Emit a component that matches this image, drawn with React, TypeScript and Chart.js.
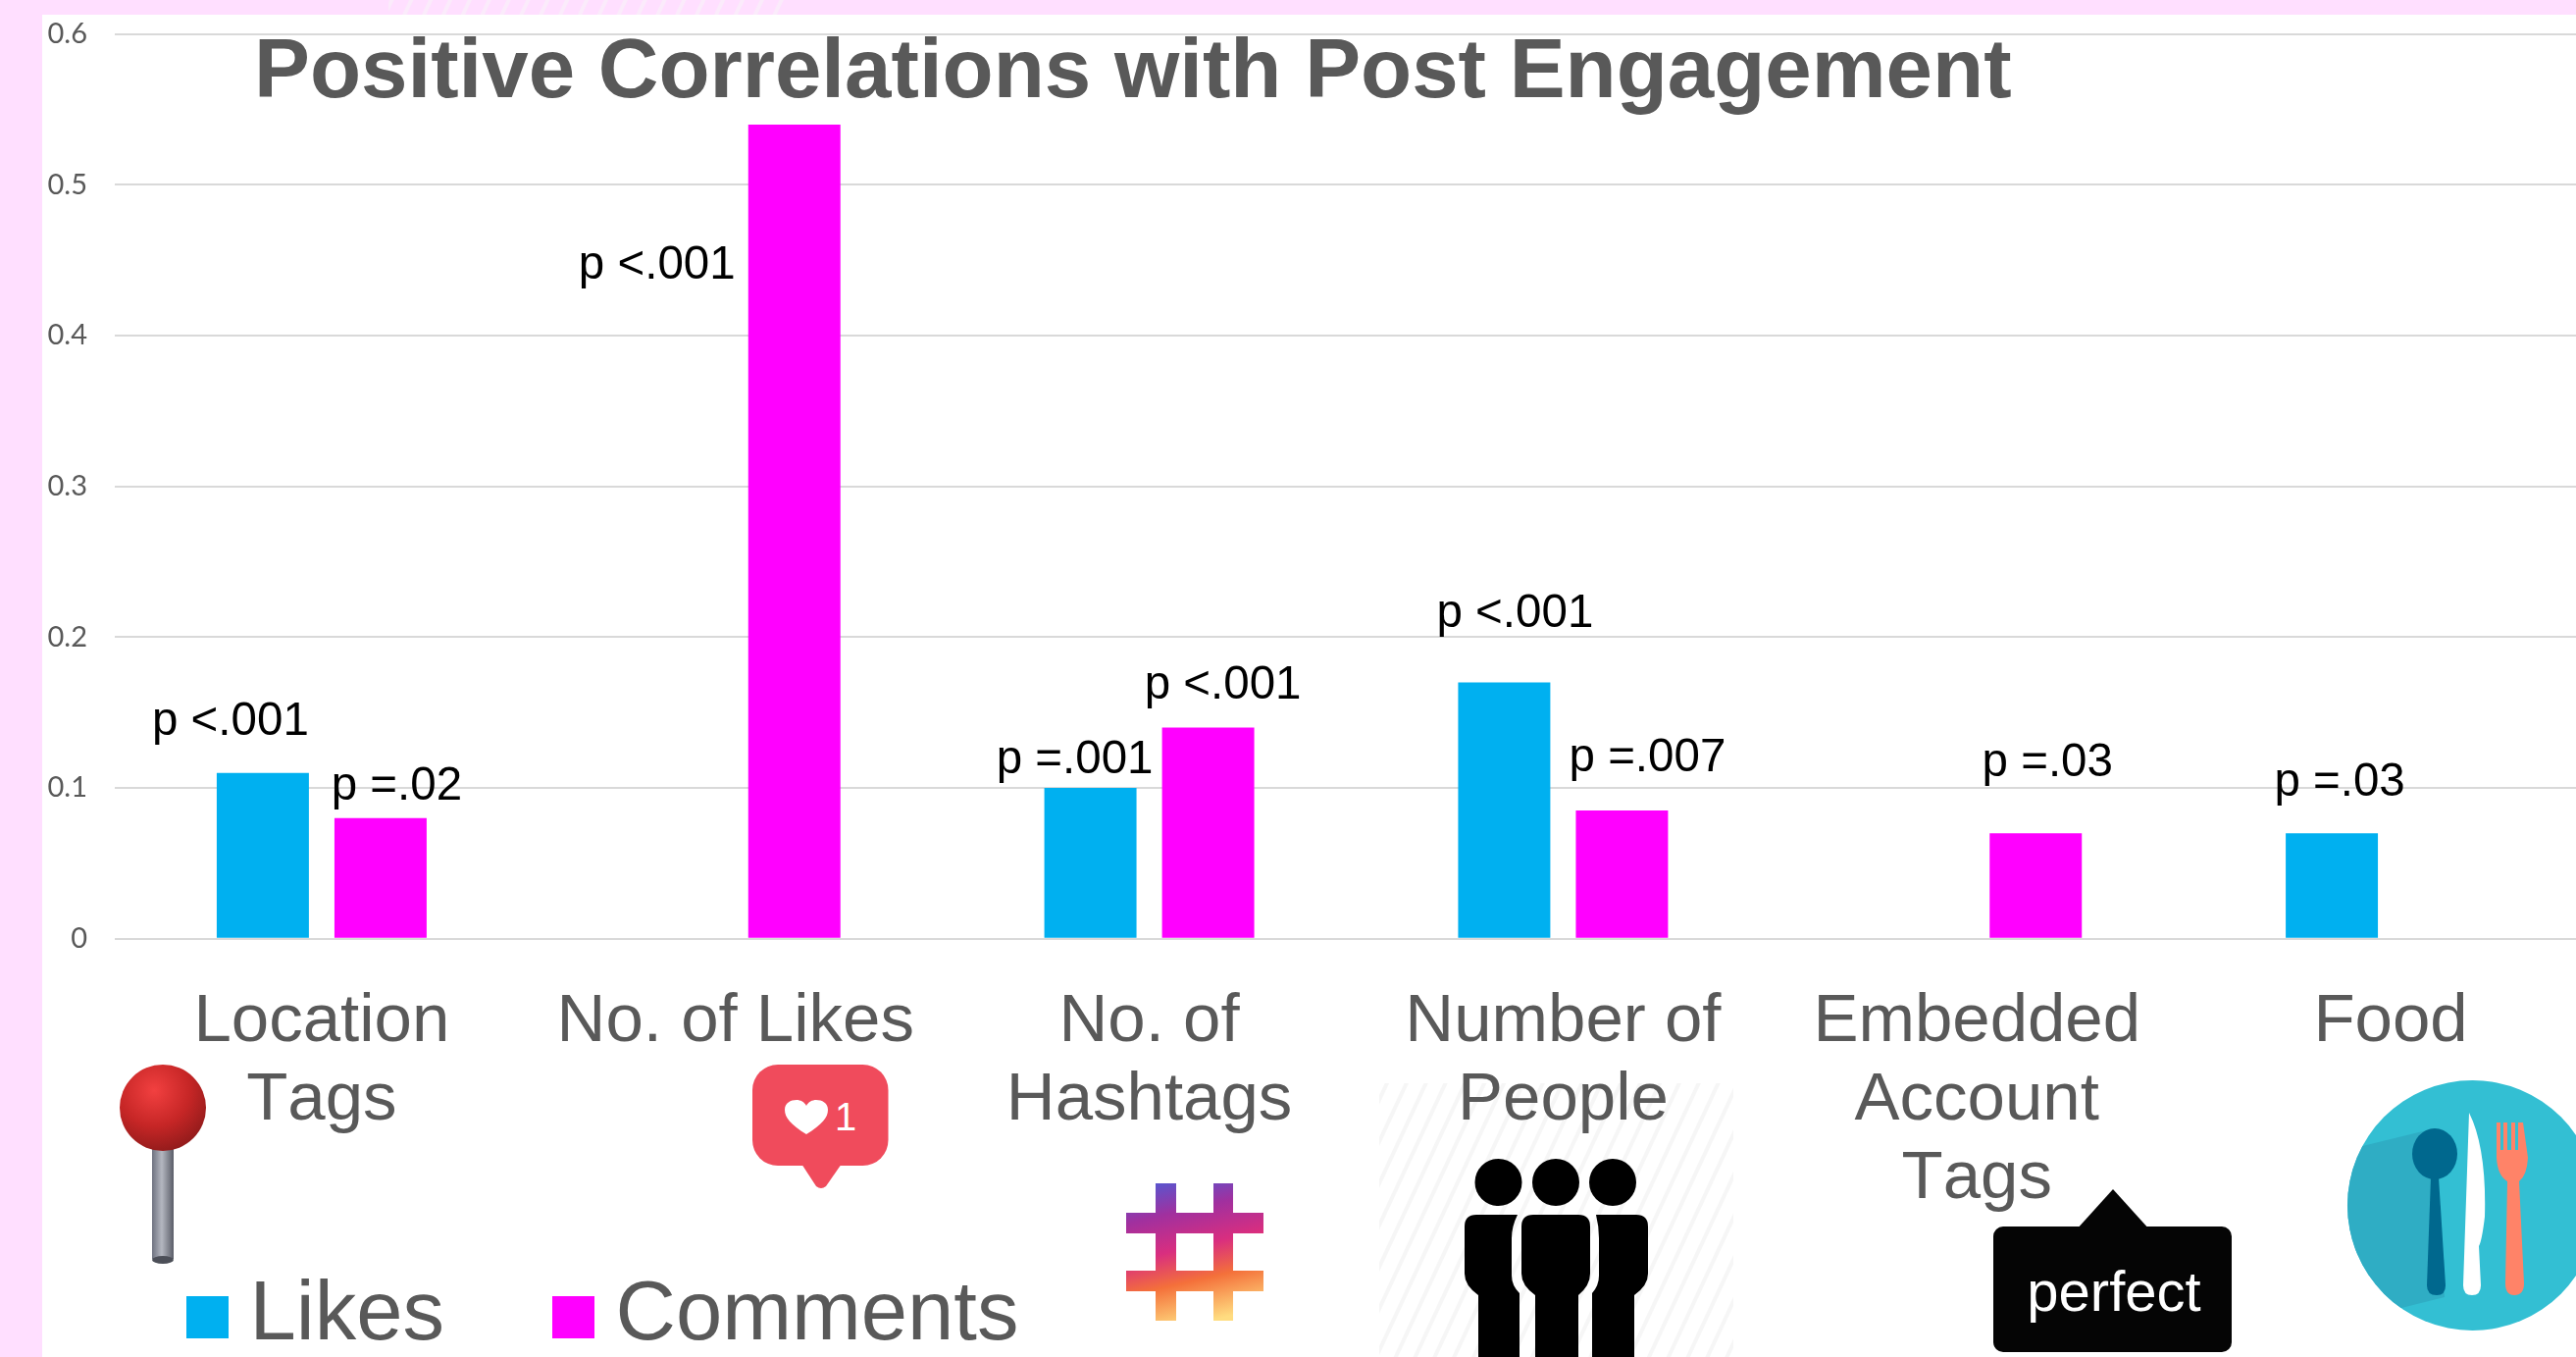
import React, { useEffect, useRef } from "react";
import { Chart, registerables } from "chart.js";

Chart.register(...registerables);

const chartTitle = "Positive Correlations with Post Engagement";
const categories = [
  ["Location", "Tags"],
  ["No. of Likes"],
  ["No. of", "Hashtags"],
  ["Number of", "People"],
  ["Embedded", "Account", "Tags"],
  ["Food"],
];
const likes = [0.11, null, 0.1, 0.17, null, 0.07];
const comments = [0.08, 0.54, 0.14, 0.085, 0.07, null];
const pLikes = ["p <.001", null, "p =.001", "p <.001", null, "p =.03"];
const pComments = ["p =.02", "p <.001", "p <.001", "p =.007", "p =.03", null];
const yTickLabels = ["0", "0.1", "0.2", "0.3", "0.4", "0.5", "0.6"];

// label placement relative to the top centre of the bar it annotates
const likesOffsets: (number[] | null)[] = [[-33, -52], null, [-16, -28], [11, -70], null, [8, -51.5]];
const commentsOffsets: (number[] | null)[] = [[16.5, -31.5], [-140, 144], [15, -43], [26, -53.5], [12, -71.5], null];

const W = 2648;
const H = 1383;
const PLOT_TOP = 34.7;
const PLOT_BOTTOM = 956.7;
const PLOT_LEFT = 117;
const GREY = "#595959";
const BLUE = "#00B0F0";
const MAGENTA = "#FF00FF";
const PINK = "#FFDFFF";
const SANS = "'Liberation Sans', Arial, sans-serif";

function swatch(color: string) {
  const c = document.createElement("canvas");
  c.width = 43;
  c.height = 43;
  const x = c.getContext("2d")!;
  x.fillStyle = color;
  x.fillRect(0, 0, 43, 43);
  return c;
}

const placeBoxes = {
  id: "placeBoxes",
  afterLayout(chart: any) {
    const t = chart.titleBlock;
    t.left = 259;
    t.right = W;
    t.top = 0;
    const l = chart.legend;
    l.left = 79.9;
    l.right = W;
    l.top = 1168.4;
    l.bottom = H;
  },
  beforeDraw(chart: any) {
    chart.ctx.fontKerning = "none";
  },
};

const pValueLabels = {
  id: "pValueLabels",
  afterDatasetsDraw(chart: any) {
    const ctx = chart.ctx;
    ctx.save();
    ctx.font = `47.5px ${SANS}`;
    ctx.fillStyle = "#000000";
    ctx.textAlign = "center";
    ctx.textBaseline = "middle";
    [pLikes, pComments].forEach((labels, ds) => {
      const offs = ds === 0 ? likesOffsets : commentsOffsets;
      const bars = chart.getDatasetMeta(ds).data;
      labels.forEach((txt, i) => {
        const o = offs[i];
        if (!txt || !o) return;
        ctx.fillText(txt, bars[i].x + o[0], bars[i].y + o[1]);
      });
    });
    ctx.restore();
  },
};

function Icons() {
  return (
    <svg
      width={2626}
      height={1383}
      style={{ position: "absolute", left: 0, top: 0, display: "block" }}
      xmlns="http://www.w3.org/2000/svg"
    >
      <defs>
        <pattern id="hatch" width="18" height="18" patternUnits="userSpaceOnUse" patternTransform="rotate(25)">
          <rect x="0" y="0" width="4" height="18" fill="#F6F6F6" />
        </pattern>
        <radialGradient id="pinHead" cx="0.4" cy="0.3" r="0.75">
          <stop offset="0" stopColor="#F24040" />
          <stop offset="0.55" stopColor="#C62626" />
          <stop offset="1" stopColor="#8E1A1A" />
        </radialGradient>
        <linearGradient id="pinStem" x1="0" x2="1" y1="0" y2="0">
          <stop offset="0" stopColor="#6E7280" />
          <stop offset="0.45" stopColor="#B4B7C0" />
          <stop offset="1" stopColor="#5A5D68" />
        </linearGradient>
        <linearGradient id="hashGrad" gradientUnits="userSpaceOnUse" x1="1180" y1="1200" x2="1215" y2="1350">
          <stop offset="0" stopColor="#4F5BD5" />
          <stop offset="0.25" stopColor="#A0309F" />
          <stop offset="0.5" stopColor="#D92E7F" />
          <stop offset="0.72" stopColor="#F4703A" />
          <stop offset="1" stopColor="#FFDC80" />
        </linearGradient>
        <clipPath id="plateClip">
          <circle cx="2520.5" cy="1228.5" r="127.5" />
        </clipPath>
      </defs>

      {/* faint hatch strip of a cropped picture along the top edge */}
      <rect x="396" y="0" width="408" height="15" fill="url(#hatch)" opacity="0.5" />

      {/* map pin */}
      <rect x="155" y="1165" width="22" height="118" fill="url(#pinStem)" />
      <ellipse cx="166" cy="1284" rx="11" ry="4" fill="#4C4F58" />
      <circle cx="166" cy="1129" r="44" fill="url(#pinHead)" />

      {/* like bubble */}
      <rect x="767" y="1085" width="138.5" height="103" rx="26" fill="#F04B5C" />
      <path d="M817 1186 L858 1186 L842 1209 Q837 1213 832 1209 Z" fill="#F04B5C" />
      <path
        d="M822 1156 C806 1146 800 1139 800 1131 C800 1124 806 1121 812 1121 C816 1121 820 1123 822 1127 C824 1123 828 1121 832 1121 C838 1121 844 1124 844 1131 C844 1139 838 1146 822 1156 Z"
        fill="#FFFFFF"
      />
      <text x="862" y="1152" textAnchor="middle" fontFamily={SANS} fontSize="40" fill="#FFFFFF">
        1
      </text>

      {/* hashtag */}
      <g fill="url(#hashGrad)">
        <rect x="1178" y="1206" width="21" height="140" />
        <rect x="1237" y="1206" width="20" height="140" />
        <rect x="1148" y="1236" width="140" height="21" />
        <rect x="1148" y="1295" width="140" height="21" />
      </g>

      {/* people */}
      <rect x="1406" y="1104" width="361" height="279" fill="url(#hatch)" />
      <g fill="#000000">
        <circle cx="1527.5" cy="1205" r="24" />
        <circle cx="1586" cy="1205" r="24" />
        <circle cx="1644" cy="1205" r="24" />
        <path d="M1505 1238 H1547 Q1541 1250 1541 1262 V1300 Q1541 1310 1549 1318 V1383 H1507 V1320 Q1493 1310 1493 1298 V1250 Q1493 1238 1505 1238 Z" />
        <path d="M1563 1238 H1609 Q1621 1238 1621 1250 V1298 Q1621 1310 1609 1320 V1383 H1565 V1320 Q1551 1310 1551 1298 V1250 Q1551 1238 1563 1238 Z" />
        <path d="M1627 1238 H1668 Q1680 1238 1680 1250 V1298 Q1680 1310 1666 1320 V1383 H1623 V1318 Q1630 1310 1630 1300 V1262 Q1630 1250 1627 1238 Z" />
      </g>

      {/* account tag */}
      <rect x="2032" y="1250" width="243" height="128" rx="10" fill="#050505" />
      <path d="M2116 1254 L2154 1212 L2192 1254 Z" fill="#050505" />
      <text x="2155" y="1336" textAnchor="middle" fontFamily={SANS} fontSize="58" fill="#FFFFFF">
        perfect
      </text>

      {/* food plate */}
      <circle cx="2520.5" cy="1228.5" r="127.5" fill="#33BFD3" />
      <polygon points="2380,1175 2482,1150 2492,1322 2380,1350" fill="#2FADC4" clipPath="url(#plateClip)" />
      <ellipse cx="2482" cy="1176" rx="23" ry="26" fill="#00688E" />
      <path d="M2478 1200 H2486 L2493 1310 Q2493 1320 2484 1320 Q2474 1320 2474 1310 Z" fill="#00688E" />
      <path d="M2517 1134 Q2535 1170 2533 1240 Q2530 1265 2527 1270 L2529 1310 Q2529 1320 2520 1320 Q2511 1320 2511 1310 Z" fill="#FFFFFF" />
      <path d="M2545 1144 H2549 V1172 H2552 V1144 H2556 V1172 H2560 V1144 H2564 V1172 H2567 V1144 H2572 L2577 1180 Q2576 1198 2568 1204 L2573 1308 Q2573 1320 2563 1320 Q2554 1320 2554 1308 L2556 1204 Q2546 1198 2545 1180 Z" fill="#FF8368" />
    </svg>
  );
}

export default function App() {
  const ref = useRef<HTMLCanvasElement | null>(null);

  useEffect(() => {
    if (!ref.current) return;
    const chart = new Chart(ref.current, {
      type: "bar",
      data: {
        labels: categories as any,
        datasets: [
          { label: "Likes", data: likes, backgroundColor: BLUE },
          { label: "Comments", data: comments, backgroundColor: MAGENTA },
        ],
      },
      plugins: [placeBoxes, pValueLabels],
      options: {
        responsive: false,
        animation: false,
        devicePixelRatio: 1,
        layout: { padding: { top: PLOT_TOP, left: 0, right: 0, bottom: 0 } },
        datasets: { bar: { categoryPercentage: 0.569, barPercentage: 0.783, borderWidth: 0 } },
        plugins: {
          tooltip: { enabled: false },
          title: {
            display: true,
            text: chartTitle,
            align: "start",
            color: GREY,
            font: { family: SANS, size: 85.3, weight: "bold", lineHeight: 1.2 },
            padding: { top: 24.5, bottom: -126.86 },
          },
          legend: {
            display: true,
            position: "bottom",
            align: "start",
            maxHeight: 1,
            labels: {
              usePointStyle: true,
              pointStyleWidth: 1,
              padding: 131.1,
              color: GREY,
              font: { family: SANS, size: 85 },
              generateLabels: (c: any) =>
                c.data.datasets.map((d: any, i: number) => ({
                  text: d.label,
                  datasetIndex: i,
                  fillStyle: d.backgroundColor,
                  strokeStyle: d.backgroundColor,
                  lineWidth: 0,
                  hidden: false,
                  fontColor: GREY,
                  pointStyle: swatch(d.backgroundColor),
                })),
            },
          },
        },
        scales: {
          x: {
            grid: { display: false, drawTicks: false },
            border: { display: false },
            afterFit: (s: any) => {
              s.height = H - PLOT_BOTTOM - 1;
            },
            ticks: {
              autoSkip: false,
              maxRotation: 0,
              minRotation: 0,
              padding: 45,
              color: GREY,
              font: { family: SANS, size: 69, lineHeight: 1.159 },
            },
          },
          y: {
            min: 0,
            max: 0.6,
            afterFit: (s: any) => {
              s.width = PLOT_LEFT;
              s.paddingTop = 0;
              s.paddingBottom = 0;
            },
            grid: { color: "#D9D9D9", lineWidth: 2, drawTicks: false },
            border: { display: false },
            ticks: {
              stepSize: 0.1,
              padding: 28,
              color: GREY,
              font: { family: "Lato", size: 29 },
              callback: (v: any) => yTickLabels[Math.round(Number(v) * 10)],
            },
          },
        },
      } as any,
    });
    return () => chart.destroy();
  }, []);

  return (
    <div style={{ position: "fixed", left: 0, top: 0, width: 2626, height: 1383, overflow: "hidden", background: PINK }}>
      <div style={{ position: "absolute", left: 43, top: 15, right: 0, bottom: 0, background: "#FFFFFF" }} />
      <Icons />
      <canvas ref={ref} width={W} height={H} style={{ position: "absolute", left: 0, top: 0, display: "block" }} />
    </div>
  );
}
